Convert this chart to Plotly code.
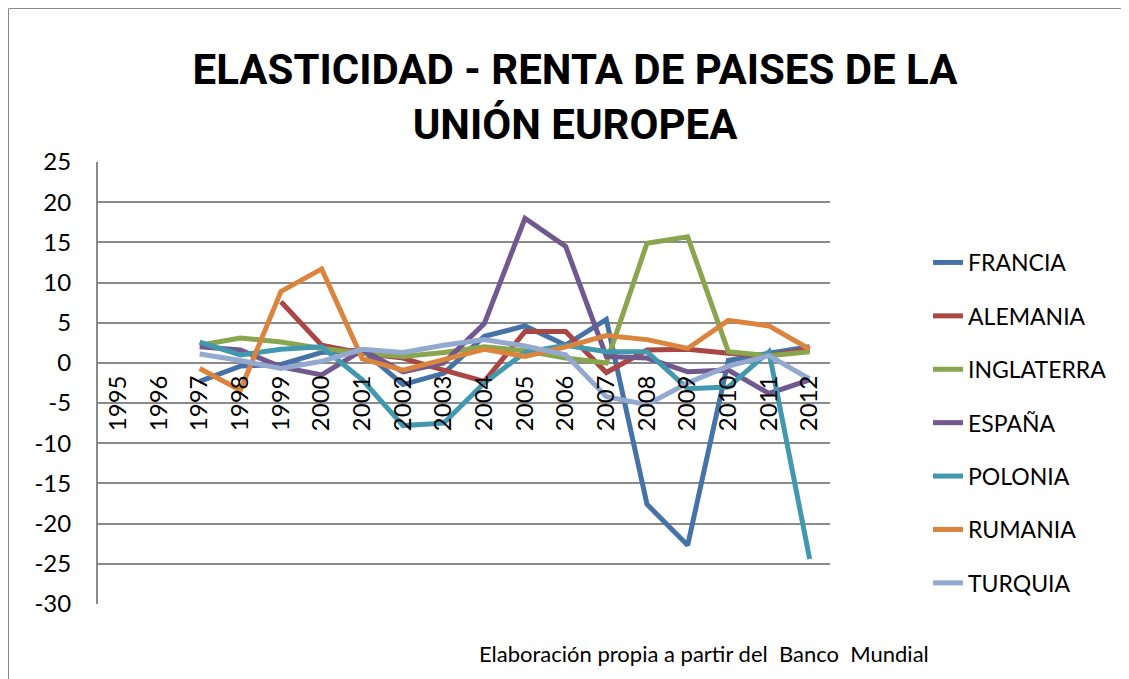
import plotly.graph_objects as go

years = [str(y) for y in range(1995, 2013)]

francia    = [None, None, -2.3, -0.4, -0.2, 1.3, 1.6, -2.7, -1.3, 3.3, 4.6, 2.2, 5.4, -17.6, -22.7, 0.3, 1.2, 2.0]
alemania   = [None, None, None, None, 7.6, 2.2, 1.2, 0.6, -0.9, -2.3, 3.9, 3.9, -1.2, 1.6, 1.7, 1.2, 0.9, 1.7]
inglaterra = [None, None, 2.2, 3.1, 2.6, 1.8, 1.2, 0.8, 1.3, 2.0, 1.5, 0.6, 0.0, 14.9, 15.7, 1.4, 0.9, 1.4]
espana     = [None, None, 2.0, 1.6, -0.5, -1.5, 1.6, -1.1, 0.0, 4.9, 18.0, 14.5, 0.8, 0.6, -1.1, -0.9, -3.8, -2.1]
polonia    = [None, None, 2.6, 1.0, 1.7, 2.0, -2.1, -7.8, -7.5, -2.5, 1.3, 2.2, 1.4, 1.4, -3.2, -3.0, 1.4, -24.4]
rumania    = [None, None, -0.7, -3.4, 8.9, 11.7, 0.5, -0.9, 0.4, 1.7, 0.8, 2.0, 3.4, 2.9, 1.8, 5.3, 4.6, 1.7]
turquia    = [None, None, 1.1, 0.3, -0.7, 0.2, 1.7, 1.3, 2.2, 2.9, 2.1, 1.0, -4.2, -5.2, -2.5, -0.4, 0.9, -2.0]

names = ["FRANCIA", "ALEMANIA", "INGLATERRA", "ESPAÑA", "POLONIA", "RUMANIA", "TURQUIA"]
series = [francia, alemania, inglaterra, espana, polonia, rumania, turquia]
colors = ["#4572A7", "#AA4643", "#89A54E", "#71588F", "#4198AF", "#DB843D", "#93A9CF"]

y_ticks = list(range(-30, 30, 5))
y_tick_text = [str(v) for v in y_ticks]
y_min, y_max = -30, 25

fig = go.Figure()
for name, vals, col in zip(names, series, colors):
    fig.add_trace(go.Scatter(
        x=years, y=vals, name=name, mode="lines",
        line=dict(color=col, width=5),
        legendgroup=name, connectgaps=False,
    ))

# page has an 8px body margin; figure covers the window minus that offset
OFF = 8
W, H = 1129 - OFF, 679 - OFF
L, R, T, B = 98 - OFF, 830 - OFF, 162 - OFF, 604 - OFF

def px_x(p):
    return (p - OFF - L) / (R - L)

def px_y(p):
    return (B - (p - OFF)) / (B - T)

fig.update_layout(
    width=W, height=H,
    margin=dict(l=L, r=W - R, t=T, b=H - B, autoexpand=False),
    paper_bgcolor="white", plot_bgcolor="white",
    font=dict(family="Lato", size=24, color="black"),
    title=dict(
        text="ELASTICIDAD - RENTA DE PAISES DE LA<br>UNIÓN EUROPEA",
        font=dict(family="Roboto", size=42, color="black", weight="bold"),
        x=(575 - OFF) / W, xanchor="center", xref="container",
        y=1 - (84 - OFF) / H, yanchor="middle", yref="container",
    ),
    xaxis=dict(
        type="category", categoryorder="array", categoryarray=years,
        tickvals=years, ticktext=years,
        range=[-0.5, len(years) - 0.5],
        anchor="free", position=(0 - y_min) / (y_max - y_min),
        showgrid=False, showline=False, zeroline=False,
        tickangle=-90, ticks="outside", ticklen=2, tickcolor="rgba(0,0,0,0)",
        tickfont=dict(family="Lato", size=24, color="black"),
        automargin=False,
    ),
    yaxis=dict(
        range=[y_min, y_max], tickvals=y_ticks, ticktext=y_tick_text,
        showgrid=True, gridcolor="#8a8a8a", gridwidth=2,
        zeroline=True, zerolinecolor="#8a8a8a", zerolinewidth=2,
        showline=True, linecolor="#8a8a8a", linewidth=2,
        ticks="outside", ticklen=20, tickcolor="rgba(0,0,0,0)",
        tickfont=dict(family="Lato", size=24, color="black"),
        automargin=False,
    ),
    legend=dict(
        x=px_x(928), y=px_y(241), xanchor="left", yanchor="top",
        xref="paper", yref="paper",
        font=dict(family="Lato", size=23, color="black"),
        traceorder="grouped", tracegroupgap=20.5,
        bgcolor="rgba(0,0,0,0)",
    ),
    showlegend=True,
)

fig.add_annotation(
    text="Elaboración propia a partir del  Banco  Mundial",
    x=px_x(704), y=px_y(653), xref="paper", yref="paper",
    xanchor="center", yanchor="middle", showarrow=False,
    font=dict(family="Lato", size=22, color="black"),
)

fig.add_shape(
    type="rect", xref="paper", yref="paper",
    x0=px_x(8.5), x1=px_x(1150), y0=px_y(700), y1=px_y(8.5),
    line=dict(color="#8a8a8a", width=1), fillcolor="rgba(0,0,0,0)", layer="below",
)

fig.write_html("out.html")
